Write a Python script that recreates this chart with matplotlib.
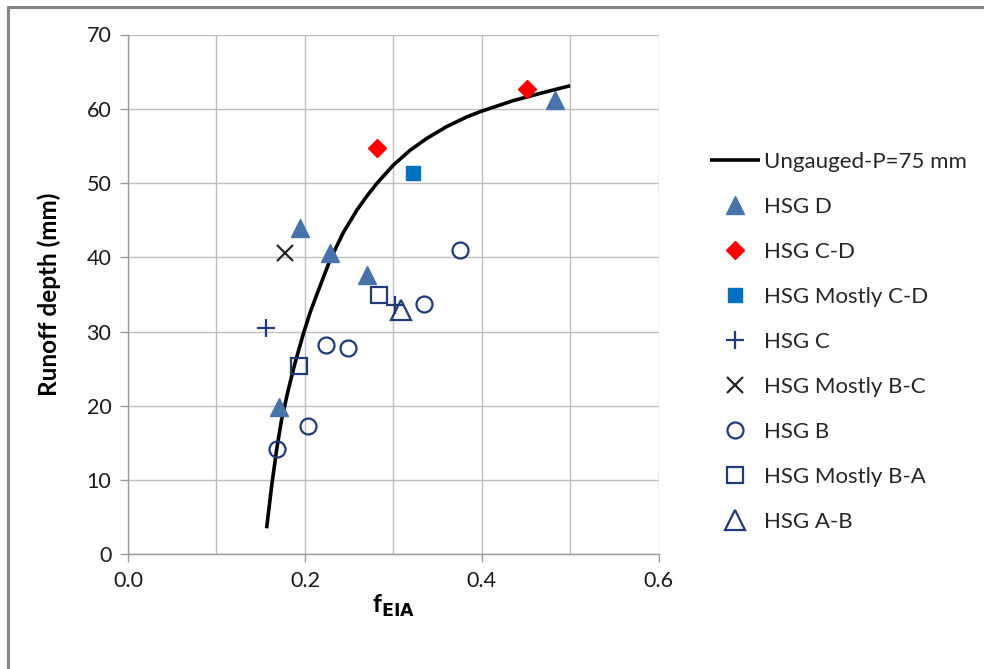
import matplotlib
matplotlib.use("Agg")
import matplotlib.pyplot as plt
from matplotlib.patches import Rectangle

plt.rcParams['font.family'] = ['Lato', 'DejaVu Sans']

# Ungauged curve (P = 75 mm)
curve_x = [0.1567, 0.1623, 0.168, 0.1736, 0.1811, 0.1887, 0.198, 0.2057, 0.2132,
           0.2283, 0.2433, 0.2585, 0.2698, 0.281, 0.2999, 0.3188, 0.3377, 0.3603,
           0.383, 0.398, 0.4356, 0.4734, 0.4998]
curve_y = [3.5, 9.1, 14.06, 18.1, 22.1, 25.7, 29.6, 32.5, 34.9,
           39.6, 43.3, 46.3, 48.2, 49.9, 52.4, 54.4, 56.0, 57.6,
           58.9, 59.6, 61.1, 62.3, 63.1]

hsg_d_x = [0.1706, 0.195, 0.228, 0.270, 0.483]
hsg_d_y = [19.9, 43.9, 40.6, 37.6, 61.2]
hsg_cd_x = [0.281, 0.4515]
hsg_cd_y = [54.7, 62.7]
hsg_mcd_x = [0.322]
hsg_mcd_y = [51.4]
hsg_c_x = [0.156, 0.302]
hsg_c_y = [30.5, 33.6]
hsg_mbc_x = [0.1774]
hsg_mbc_y = [40.6]
hsg_b_x = [0.169, 0.2037, 0.2238, 0.249, 0.335, 0.3753]
hsg_b_y = [14.15, 17.3, 28.2, 27.8, 33.7, 41.0]
hsg_mba_x = [0.193, 0.284]
hsg_mba_y = [25.4, 34.9]
hsg_ab_x = [0.309]
hsg_ab_y = [32.9]

x_ticks = [0.0, 0.2, 0.4, 0.6]
x_tick_labels = ['0.0', '0.2', '0.4', '0.6']
y_ticks = [0, 10, 20, 30, 40, 50, 60, 70]

fig = plt.figure(figsize=(9.84, 6.69), dpi=100)
W, H = 984, 669
ax = fig.add_axes([128 / W, 1 - 554.3 / H, (658.7 - 128) / W, (554.3 - 34.5) / H])

# chart-area border
fig.patches.append(Rectangle((8 / W, -0.05), 1.2, 1 - 7 / H + 0.05, transform=fig.transFigure,
                             fill=False, edgecolor='#878787', linewidth=2.2, zorder=0))

navy = '#1F3A78'
tri_col = '#4772AA'
ax.plot(curve_x, curve_y, color='black', lw=2.6, label='Ungauged-P=75 mm', zorder=3,
        solid_capstyle='butt', solid_joinstyle='round')
ax.plot(hsg_d_x, hsg_d_y, ls='none', marker='^', ms=13, color=tri_col, mec=tri_col,
        label='HSG D', zorder=4)
ax.plot(hsg_cd_x, hsg_cd_y, ls='none', marker='D', ms=9.5, color='#FF0000', mec='#FF0000',
        label='HSG C-D', zorder=4)
ax.plot(hsg_mcd_x, hsg_mcd_y, ls='none', marker='s', ms=10.5, color='#0070C0', mec='#0070C0',
        label='HSG Mostly C-D', zorder=4)
ax.plot(hsg_c_x, hsg_c_y, ls='none', marker='+', ms=13, color=navy, mew=1.6,
        label='HSG C', zorder=4)
ax.plot(hsg_mbc_x, hsg_mbc_y, ls='none', marker='x', ms=11.5, color='#262626', mew=1.6,
        label='HSG Mostly B-C', zorder=4)
ax.plot(hsg_b_x, hsg_b_y, ls='none', marker='o', ms=11.5, mfc='none', mec=navy, mew=1.6,
        label='HSG B', zorder=4)
ax.plot(hsg_mba_x, hsg_mba_y, ls='none', marker='s', ms=11.5, mfc='none', mec=navy, mew=1.6,
        label='HSG Mostly B-A', zorder=4)
ax.plot(hsg_ab_x, hsg_ab_y, ls='none', marker='^', ms=14, mfc='none', mec=navy, mew=1.6,
        label='HSG A-B', zorder=4)

ax.set_xlim(0, 0.6)
ax.set_ylim(0, 70)
ax.set_xticks(x_ticks)
ax.set_xticklabels(x_tick_labels)
ax.set_yticks(y_ticks)
ax.set_xticks([0.1, 0.3, 0.5], minor=True)
ax.grid(True, which='both', color='#BEBEBE', lw=1.0)
ax.tick_params(which='minor', length=0)
ax.tick_params(which='major', direction='out', length=6, color='#9A9A9A', width=1,
               labelsize=15.5, labelcolor='#1A1A1A', pad=6)
for s in ['top', 'right']:
    ax.spines[s].set_visible(False)
for s in ['left', 'bottom']:
    ax.spines[s].set_color('#9A9A9A')
    ax.spines[s].set_linewidth(1)
ax.set_axisbelow(True)

ax.set_ylabel('Runoff depth (mm)', fontsize=17.5, fontweight='bold', color='#000000', labelpad=18)
ax.set_xlabel(r'f$_{\mathbf{EIA}}$', fontsize=18, fontweight='bold', color='#000000', labelpad=1)

leg = fig.legend(loc='upper left', bbox_to_anchor=(710 / W, 1 - 152 / H), frameon=False,
                 fontsize=16, handlelength=2.25, handletextpad=0.2, labelspacing=1.125,
                 borderaxespad=0, borderpad=0)
for t in leg.get_texts():
    t.set_color('#262626')

fig.savefig('out.png', dpi=100)
